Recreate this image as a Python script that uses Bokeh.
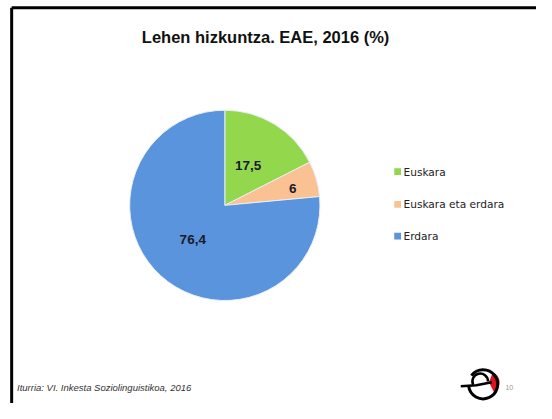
import math
from bokeh.plotting import figure
from bokeh.models import Range1d, ColumnDataSource
from bokeh.core.properties import value
from bokeh.embed import file_html
from bokeh.resources import INLINE

title_text = "Lehen hizkuntza. EAE, 2016 (%)"
categories = ["Euskara", "Euskara eta erdara", "Erdara"]
values = [17.5, 6, 76.4]
labels = ["17,5", "6", "76,4"]
colors = ["#93D74D", "#FAC192", "#5A94DC"]
source_text = "Iturria: VI. Inkesta Soziolinguistikoa, 2016"
page_no = "10"

W, H = 536, 403
IMG_W, IMG_H = 552, 419

def Y(yi):
    return IMG_H - yi

p = figure(width=W, height=H, output_backend="svg", toolbar_location=None,
           x_range=Range1d(0, IMG_W), y_range=Range1d(0, IMG_H),
           min_border=0, outline_line_color=None, background_fill_color="white",
           border_fill_color="white")
p.axis.visible = False
p.grid.visible = False

# frame border (top and left black lines)
p.line([11.5, IMG_W], [Y(7.5), Y(7.5)], line_color="black", line_width=3)
p.line([11.5, 11.5], [Y(7.5), Y(IMG_H)], line_color="black", line_width=3)

# title
p.text([273], [Y(38)], text=[title_text], text_align="center", text_baseline="middle",
       text_font=value("Liberation Sans"), text_font_style="bold",
       text_font_size="16.5px", text_color="#111111")

# pie
cx, cy, r = 231, Y(213), 98
total = sum(values)
starts, ends = [], []
a = math.pi / 2
for v in values:
    ang = v / total * 2 * math.pi
    starts.append(a - ang)
    ends.append(a)
    a -= ang
src = ColumnDataSource(dict(start=starts, end=ends, color=colors))
p.wedge(x=cx, y=cy, radius=r, start_angle="start", end_angle="end",
        fill_color="color", line_color="#E8EEF5", line_width=1, source=src)

# data labels
lab_pos = [(255, 172), (301, 195), (198, 248)]
p.text([q[0] for q in lab_pos], [Y(q[1]) for q in lab_pos], text=labels,
       text_align="center", text_baseline="middle",
       text_font=value("Liberation Sans"), text_font_style="bold",
       text_font_size="13.5px", text_color="#1A1A2A")

# legend
ly = [178, 212, 245]
p.rect(x=[409] * 3, y=[Y(v) for v in ly], width=7, height=7, fill_color=colors,
       line_color=None)
p.text([415] * 3, [Y(v) for v in ly], text=categories, text_align="left",
       text_baseline="middle", text_font=value("DejaVu Sans"),
       text_font_size="10.6px", text_color="#222222")

# footer source
p.text([17], [Y(402)], text=[source_text], text_align="left", text_baseline="middle",
       text_font=value("Liberation Sans"), text_font_style="italic",
       text_font_size="9.5px", text_color="#333333")

# logo (approximation)
lx, lyy = 497, Y(399)
p.wedge(x=lx + 6, y=lyy + 2, radius=11, start_angle=-1.1, end_angle=1.2,
        fill_color="#E0141E", line_color=None)
p.arc(x=lx, y=lyy, radius=15, start_angle=-3.0, end_angle=2.5, line_color="black", line_width=3)
p.arc(x=lx - 3, y=lyy + 3, radius=8, start_angle=0.0, end_angle=3.6, line_color="black", line_width=2.5)
p.line([474, 490, 506], [Y(401), Y(400), Y(397)], line_color="black", line_width=2.5)
p.text([524], [Y(402)], text=[page_no], text_align="center", text_baseline="middle",
       text_font=value("Liberation Sans"), text_font_size="7px", text_color="#999999")

open("out.html", "w").write(file_html(p, INLINE))
